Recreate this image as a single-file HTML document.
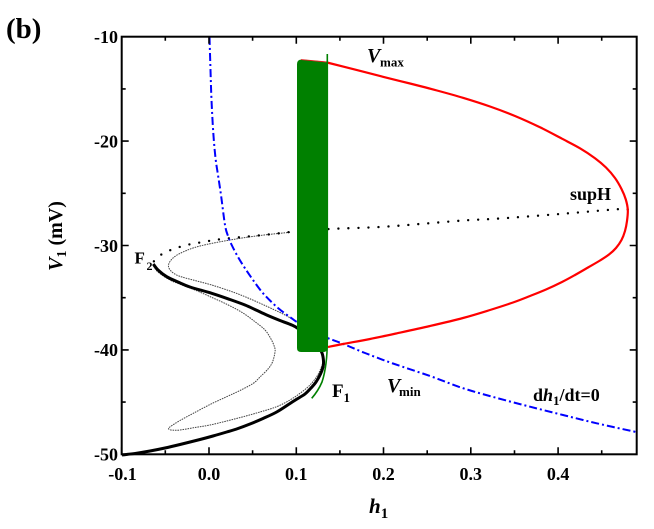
<!DOCTYPE html>
<html>
<head>
<meta charset="utf-8">
<style>
html,body{margin:0;padding:0;background:#fff;}
svg{display:block;}
text{font-family:"Liberation Serif","Times New Roman",serif;font-weight:bold;fill:#000;}
</style>
</head>
<body>
<svg id="chart" width="654" height="529" viewBox="0 0 654 529" xmlns="http://www.w3.org/2000/svg">
<rect width="654" height="529" fill="#fff"/>

<!-- thin gray dotted curves -->
<polyline class="s" fill="none" stroke="#444" stroke-width="1" stroke-dasharray="1.6 0.9"
 points="290,232.3 260,235.5 230,240 200,246 183,252 173,258 168.5,265 171,271 179,276 195,280.5 211.7,285 230,291 245,296.7 265,305.5 285,315 297,322"/>
<polyline class="s" fill="none" stroke="#444" stroke-width="1" stroke-dasharray="1.6 0.9"
 points="153.5,266 158,272 170,280 182,285 195,290 212,297.5 228.3,305 243,313 255,321.7 265,330 271,339 274.5,347 275,352 272.5,362 268,369 260,377 253.3,383.3 240,390.5 226.7,396.7 210,404.5 193.3,413.3 180,420.5 170.5,426.5 168.5,428.5 171,430 180,430 195,427.5 210,425 226.7,421 243.3,416.7 260,412 276.7,406.7 290,400 300,393.3 309,386 316.7,376.7 321,368 323,361.7 322.5,355 321.7,351.7"/>

<!-- thick black stable branch -->
<polyline class="s" fill="none" stroke="#000" stroke-width="3" stroke-linejoin="round"
 points="153.3,264 158,270 166.7,276.7 178,282 190,287 211.7,293.3 230,299.5 245,305 256,310 266.7,315 280,320.5 291.7,325 298,328.5 310,338 318,346 322,353 323.5,361 323,367 320.5,374 316,382 311,388 305,394 297,399 290,403.5 276.7,412 263,418.5 250,424 238,428.5 226.7,432 213,436 200,439.5 180,444.5 165,448 150,451 136,453.3 122,455"/>

<!-- black dotted unstable branch -->
<polyline class="s" fill="none" stroke="#000" stroke-width="2.4" stroke-linecap="round" stroke-dasharray="0 10"
 points="627.7,209.5 616.7,209.3 560,214 500,218.5 463.3,220.5 420,224 380,227 330,229 293.3,231.7 273.3,234 248,236.5 220,239.3 200,242.5 186.7,245 175,248.5 165,252.5 158,257 153.3,262"/>

<!-- blue nullcline dh1/dt=0 -->
<polyline class="s" fill="none" stroke="#0000ff" stroke-width="2" stroke-dasharray="8 3 2 3"
 points="209.5,37 210.5,70 211.5,100 213.3,133 215.5,158 218,175 221,195 225,225 228,236 231.7,245 238,257 245,268.3 253,280 261.7,291.7 270,300.5 278.3,308.3 285,313.5 291.7,318.3 297,322 310,328.5 320,334 328.3,338.3 341.7,343.3 365,353 393,363.5 430,376 463.3,388.3 497,398 530,406.7 563,415 596.7,423.3 636,432"/>

<!-- red Vmax / Vmin branches -->
<polyline class="s" fill="none" stroke="#ff0000" stroke-width="2.2" stroke-linejoin="round"
 points="327,62.5 355,69.6 383,76.8 410,83.5 437,90.5 463,97.8 490,106.5 515,116 540,127.3 562,138.7 580,148.3 595,158.2 606,167.5 615,178 621.5,189 625.8,199.5 627.8,210 627,221 625,231 621.5,240 616,248 609,254.5 600,260.5 588,267.5 575,275 562,282 546,289.5 530,296 513,302.5 490,310 463,318 430,326 397,333.3 370,339 343,344 328,347"/>

<!-- green band -->
<path d="M297,348 L297,64 Q297,59.5 302,59.5 L327,61.8 L327,349 Q327,352 323,352 L301,352 Q297,352 297,348 Z" fill="#008000"/>
<line x1="301" y1="59.6" x2="327" y2="62" stroke="#e02020" stroke-width="0.9"/>
<path d="M327.3,54 L327.3,340 C327.3,356 326,370 322,382 C319,389 315.5,394 311.7,398.3" fill="none" stroke="#008000" stroke-width="1.6"/>

<!-- frame -->
<rect x="121.7" y="36.7" width="515" height="417.6" fill="none" stroke="#000" stroke-width="2"/>

<!-- ticks -->
<g stroke="#000" stroke-width="1.6">
 <path d="M121.7,454.3v-7 M209,454.3v-7 M296.3,454.3v-7 M383.5,454.3v-7 M470.8,454.3v-7 M558.1,454.3v-7"/>
 <path d="M165.3,454.3v-4 M252.6,454.3v-4 M339.9,454.3v-4 M427.2,454.3v-4 M514.5,454.3v-4 M601.7,454.3v-4"/>
 <path d="M209,36.7v7 M296.3,36.7v7 M383.5,36.7v7 M470.8,36.7v7 M558.1,36.7v7"/>
 <path d="M165.3,36.7v4 M252.6,36.7v4 M339.9,36.7v4 M427.2,36.7v4 M514.5,36.7v4 M601.7,36.7v4"/>
 <path d="M121.7,141.1h7 M121.7,245.5h7 M121.7,349.9h7"/>
 <path d="M121.7,88.9h4 M121.7,193.3h4 M121.7,297.7h4 M121.7,402.1h4"/>
 <path d="M636.7,141.1h-7 M636.7,245.5h-7 M636.7,349.9h-7"/>
 <path d="M636.7,88.9h-4 M636.7,193.3h-4 M636.7,297.7h-4 M636.7,402.1h-4"/>
</g>

<!-- y tick labels -->
<g font-size="18" text-anchor="end">
 <text x="118" y="43">-10</text>
 <text x="118" y="147.4">-20</text>
 <text x="118" y="251.8">-30</text>
 <text x="118" y="356.2">-40</text>
 <text x="118" y="460.6">-50</text>
</g>
<!-- x tick labels -->
<g font-size="18" text-anchor="middle">
 <text x="122.5" y="480">-0.1</text>
 <text x="209" y="480">0.0</text>
 <text x="296.3" y="480">0.1</text>
 <text x="383.5" y="480">0.2</text>
 <text x="470.8" y="480">0.3</text>
 <text x="558.1" y="480">0.4</text>
</g>

<!-- panel label -->
<text x="6" y="38" font-size="29">(b)</text>

<!-- axis titles -->
<text transform="translate(62,236) rotate(-90)" font-size="20" text-anchor="middle"><tspan font-style="italic">V</tspan><tspan font-size="14" dy="4">1</tspan><tspan dy="-4"> (mV)</tspan></text>
<text x="369" y="513" font-size="21"><tspan font-style="italic">h</tspan><tspan font-size="15" dy="5">1</tspan></text>

<!-- annotations -->
<text x="367" y="62" font-size="20" font-style="italic" font-weight="normal">V</text>
<text x="380" y="66.5" font-size="13">max</text>

<text x="570" y="200" font-size="18">supH</text>

<text x="134.5" y="263.5" font-size="17">F</text>
<text x="146.5" y="270" font-size="12">2</text>

<text x="332" y="397" font-size="19">F</text>
<text x="343.5" y="402" font-size="13">1</text>

<text x="387" y="392" font-size="20" font-style="italic" font-weight="normal">V</text>
<text x="399" y="396" font-size="13">min</text>

<text x="533" y="401" font-size="18">d<tspan font-style="italic">h</tspan><tspan font-size="13" dy="4">1</tspan><tspan dy="-4">/dt=0</tspan></text>
</svg>
<script>
(function(){
  var NS="http://www.w3.org/2000/svg";
  var pls=document.querySelectorAll("polyline.s");
  for(var k=0;k<pls.length;k++){
    var pl=pls[k];
    var raw=pl.getAttribute("points").trim().split(/\s+/);
    var p=[];
    for(var i=0;i<raw.length;i++){var a=raw[i].split(",");p.push([+a[0],+a[1]]);}
    var d="M"+p[0][0]+","+p[0][1];
    for(var i=0;i<p.length-1;i++){
      var p0=p[i-1]||p[i],p1=p[i],p2=p[i+1],p3=p[i+2]||p[i+1];
      var c1x=p1[0]+(p2[0]-p0[0])/6,c1y=p1[1]+(p2[1]-p0[1])/6;
      var c2x=p2[0]-(p3[0]-p1[0])/6,c2y=p2[1]-(p3[1]-p1[1])/6;
      d+=" C"+c1x.toFixed(2)+","+c1y.toFixed(2)+" "+c2x.toFixed(2)+","+c2y.toFixed(2)+" "+p2[0]+","+p2[1];
    }
    var path=document.createElementNS(NS,"path");
    for(var j=0;j<pl.attributes.length;j++){
      var at=pl.attributes[j];
      if(at.name!=="points"&&at.name!=="class")path.setAttribute(at.name,at.value);
    }
    path.setAttribute("d",d);
    pl.parentNode.replaceChild(path,pl);
  }
})();
</script>
</body>
</html>
